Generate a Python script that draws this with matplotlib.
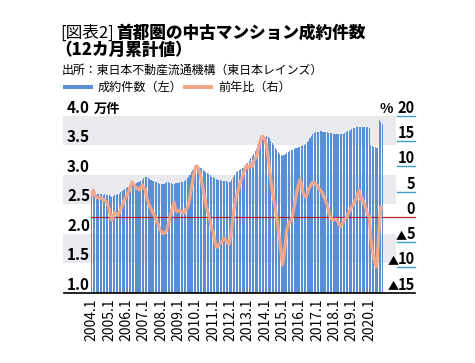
import numpy as np
import matplotlib
matplotlib.use('Agg')
import matplotlib.pyplot as plt
from matplotlib import transforms
from matplotlib.patches import Rectangle
from matplotlib.lines import Line2D

plt.rcParams['font.family'] = ['Noto Sans CJK JP', 'DejaVu Sans']

# 成約件数 (12カ月累計, 万件), monthly from 2004.1
c2004 = [2.66, 2.68, 2.67, 2.66, 2.67, 2.67, 2.68, 2.67, 2.66, 2.67, 2.66, 2.66]
c2005 = [2.65, 2.64, 2.63, 2.64, 2.65, 2.66, 2.67, 2.68, 2.70, 2.72, 2.74, 2.76]
c2006 = [2.78, 2.80, 2.81, 2.82, 2.83, 2.84, 2.85, 2.86, 2.87, 2.88, 2.90, 2.92]
c2007 = [2.94, 2.96, 2.97, 2.95, 2.93, 2.91, 2.90, 2.89, 2.88, 2.87, 2.86, 2.85]
c2008 = [2.85, 2.84, 2.85, 2.86, 2.87, 2.87, 2.86, 2.86, 2.85, 2.85, 2.86, 2.86]
c2009 = [2.86, 2.87, 2.87, 2.88, 2.89, 2.91, 2.94, 2.97, 3.00, 3.04, 3.08, 3.11]
c2010 = [3.13, 3.14, 3.13, 3.12, 3.11, 3.09, 3.07, 3.05, 3.03, 3.01, 2.99, 2.97]
c2011 = [2.96, 2.94, 2.93, 2.92, 2.91, 2.91, 2.90, 2.90, 2.89, 2.89, 2.88, 2.88]
c2012 = [2.88, 2.92, 2.96, 3.00, 3.04, 3.07, 3.09, 3.10, 3.11, 3.12, 3.14, 3.17]
c2013 = [3.20, 3.24, 3.28, 3.32, 3.36, 3.40, 3.44, 3.48, 3.52, 3.56, 3.60, 3.63]
c2014 = [3.65, 3.66, 3.65, 3.62, 3.58, 3.54, 3.50, 3.46, 3.42, 3.38, 3.35, 3.33]
c2015 = [3.32, 3.33, 3.35, 3.37, 3.39, 3.41, 3.42, 3.43, 3.44, 3.45, 3.46, 3.47]
c2016 = [3.48, 3.49, 3.50, 3.51, 3.53, 3.55, 3.58, 3.62, 3.66, 3.69, 3.71, 3.72]
c2017 = [3.73, 3.73, 3.74, 3.74, 3.73, 3.73, 3.72, 3.72, 3.71, 3.71, 3.71, 3.70]
c2018 = [3.70, 3.70, 3.69, 3.69, 3.69, 3.70, 3.70, 3.71, 3.72, 3.74, 3.75, 3.77]
c2019 = [3.78, 3.79, 3.80, 3.81, 3.82, 3.82, 3.81, 3.82, 3.82, 3.81, 3.81, 3.81]
c2020 = [3.80, 3.50, 3.49, 3.48, 3.47, 3.46, 3.46, 3.93, 3.90, 3.86]

# 前年比 (%)
y2004 = [4.3, 5.3, 4.5, 3.9, 3.8, 3.7, 3.8, 3.6, 3.5, 3.2, 3.0, 2.6]
y2005 = [1.5, 0.2, -0.7, 0.3, 0.9, 0.6, 0.5, 0.7, 1.5, 2.2, 2.9, 3.6]
y2006 = [4.2, 4.7, 5.3, 6.2, 6.9, 6.5, 6.0, 5.8, 5.5, 5.3, 5.9, 6.3]
y2007 = [5.7, 5.6, 4.0, 2.9, 2.2, 1.7, 1.0, 0.5, -0.2, -1.0, -1.6, -2.4]
y2008 = [-2.8, -3.2, -3.3, -3.1, -2.5, -1.5, -0.3, 1.0, 2.0, 2.9, 1.5, 1.0]
y2009 = [1.2, 1.3, 1.1, 0.7, 0.8, 1.5, 1.7, 2.5, 4.0, 5.7, 7.5, 9.0]
y2010 = [10.0, 10.1, 9.5, 8.5, 7.0, 5.5, 4.0, 2.3, 1.3, 0.3, -1.0, -2.3]
y2011 = [-3.0, -4.5, -5.8, -6.0, -5.5, -5.2, -5.0, -4.5, -4.3, -4.6, -5.2, -5.4]
y2012 = [-4.0, -2.0, 0.5, 2.5, 4.0, 5.0, 6.0, 7.0, 7.8, 8.6, 9.5, 10.2]
y2013 = [9.7, 9.9, 10.5, 10.0, 11.0, 11.5, 12.0, 13.2, 14.5, 15.5, 16.0, 15.6]
y2014 = [15.2, 14.0, 12.0, 9.5, 7.0, 5.0, 3.3, 1.8, 0.0, -2.3, -4.5, -7.0]
y2015 = [-9.5, -7.5, -5.0, -2.5, -1.5, -1.0, -0.6, 0.5, 2.0, 3.5, 5.0, 6.3]
y2016 = [7.3, 6.5, 5.0, 4.2, 3.9, 4.5, 5.5, 6.0, 6.5, 6.9, 6.7, 6.5]
y2017 = [6.2, 5.8, 5.3, 5.0, 4.5, 3.7, 3.0, 2.3, 1.0, -0.1, -0.4, -0.7]
y2018 = [-0.5, -0.5, -0.6, -1.6, -1.9, -1.5, -1.0, -0.5, -0.2, 0.4, 0.9, 1.5]
y2019 = [2.0, 2.5, 3.0, 3.7, 4.5, 5.2, 3.5, 3.8, 2.8, 2.3, 1.3, 0.5]
y2020 = [0.0, -4.0, -6.5, -8.0, -9.2, -9.9, -6.0, -1.5, 2.0, 1.8]

counts = (c2004 + c2005 + c2006 + c2007 + c2008 + c2009 + c2010 + c2011 + c2012
          + c2013 + c2014 + c2015 + c2016 + c2017 + c2018 + c2019 + c2020)
yoy = (y2004 + y2005 + y2006 + y2007 + y2008 + y2009 + y2010 + y2011 + y2012
       + y2013 + y2014 + y2015 + y2016 + y2017 + y2018 + y2019 + y2020)

tick_labels = [f'{y}.1' for y in range(2004, 2021)]
left_ticks = [4.0, 3.5, 3.0, 2.5, 2.0, 1.5, 1.0]
right_ticks = [20, 15, 10, 5, 0, -5, -10, -15]

W, H = 475, 363
BLUE = '#5b8fd4'
ORANGE = '#f2a68a'
GREY = '#e8eaed'

fig = plt.figure(figsize=(W / 100, H / 100), dpi=100)
ax = fig.add_axes([91 / W, 1 - 292.5 / H, 292 / W, 176.5 / H])
ax.set_facecolor('none')
ax2 = ax.twinx()
ax2.set_facecolor('none')

x = np.arange(len(counts))
ax.bar(x, np.array(counts) - 1.0, bottom=1.0, width=0.72, color=BLUE, linewidth=0)
ax.set_xlim(-0.5, len(counts) - 0.5)
ax.set_ylim(1.0, 4.0)
ax2.set_ylim(-15, 20)
ax2.plot(x, yoy, color=ORANGE, lw=2.3, solid_joinstyle='round', zorder=3)

for a in (ax, ax2):
    for s in a.spines.values():
        s.set_visible(False)
    a.tick_params(left=False, right=False, labelleft=False, labelright=False)

ax.set_xticks(np.arange(0, len(counts), 12))
ax.set_xticklabels(tick_labels, rotation=90, fontsize=10)
ax.tick_params(axis='x', length=0, pad=4)

# horizontal grey bands behind the plot
bl = transforms.blended_transform_factory(fig.transFigure, ax.transData)
for lo in [1.5, 2.5, 3.5]:
    fig.add_artist(Rectangle((63 / W, lo), 333 / W, 0.5, transform=bl,
                             facecolor=GREY, edgecolor='none', zorder=-1))

# left axis labels sit above their gridlines
bl_up = transforms.offset_copy(bl, fig=fig, y=3, units='dots')
for v in left_ticks:
    fig.text(67 / W, v, f'{v:.1f}', transform=bl_up, ha='left', va='baseline',
             fontsize=11, fontweight='bold')
fig.text(94 / W, 4.0, '万件', transform=bl_up, ha='left', va='baseline',
         fontsize=9.5, fontweight='bold')

# right axis labels with short underlines
bl2 = transforms.blended_transform_factory(fig.transFigure, ax2.transData)
bl2_up = transforms.offset_copy(bl2, fig=fig, y=3, units='dots')
for v in right_ticks:
    t = fig.text(415 / W, v, str(abs(v)), transform=bl2_up, ha='right', va='baseline',
                 fontsize=10.5, fontweight='bold')
    if v < 0:
        ax2.annotate('▲', xy=(0, 0), xycoords=t, xytext=(0.5, 0), textcoords='offset points',
                     ha='right', va='bottom', fontsize=8, annotation_clip=False)
    if v not in (0, -15):
        ax2.add_line(Line2D([397 / W, 415 / W], [v, v], transform=bl2,
                            color='#3f9fc8', lw=1.0, clip_on=False))
fig.text(380 / W, 20, '%', transform=bl2_up, ha='left', va='baseline',
         fontsize=10, fontweight='bold')

# zero line and baseline
ax2.add_line(Line2D([91 / W, 415 / W], [0, 0], transform=bl2, color='#b5272d',
                    lw=0.9, clip_on=False, zorder=2))
fig.add_artist(Line2D([64 / W, 415 / W], [1.0, 1.0], transform=bl, color='black',
                      lw=1.2, zorder=5))

# title, source, legend
t1 = fig.text(60 / W, 1 - 38 / H, '[図表2]', fontsize=12, ha='left', va='baseline')
ax2.annotate('首都圏の中古マンション成約件数', xy=(1, 0), xycoords=t1,
             xytext=(2, 0), textcoords='offset points', ha='left', va='bottom',
             fontsize=12, fontweight='heavy', annotation_clip=False)
fig.text(55 / W, 1 - 55 / H, '（12カ月累計値）', fontsize=12, fontweight='heavy',
         ha='left', va='baseline')
fig.text(62 / W, 1 - 74 / H, '出所：東日本不動産流通機構（東日本レインズ）',
         fontsize=8.6, ha='left', va='baseline')

fig.add_artist(Rectangle((63 / W, 1 - 89 / H), 30 / W, 4.5 / H, transform=fig.transFigure,
                         facecolor=BLUE, edgecolor='none'))
fig.text(98 / W, 1 - 87 / H, '成約件数（左）', fontsize=8.7, ha='left', va='center')
fig.add_artist(Rectangle((183 / W, 1 - 89 / H), 30 / W, 4.5 / H, transform=fig.transFigure,
                         facecolor=ORANGE, edgecolor='none'))
fig.text(218 / W, 1 - 87 / H, '前年比（右）', fontsize=8.7, ha='left', va='center')

plt.savefig('out.png', dpi=100)
